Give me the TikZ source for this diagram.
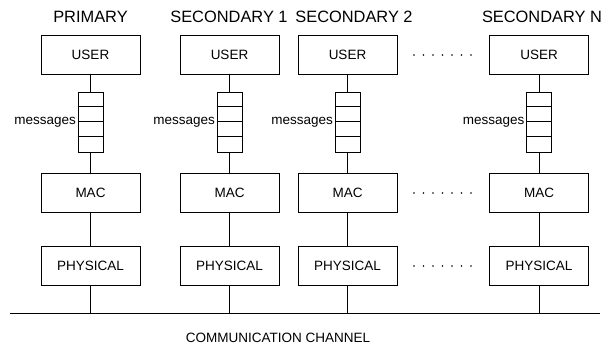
\documentclass[tikz,border=0pt]{standalone}
\usepackage{fontspec}
\setmainfont{Liberation Sans}
\begin{document}
\begin{tikzpicture}[x=1pt,y=-1pt,
  layer/.style={draw,line width=0.8pt,minimum width=99pt,minimum height=39pt,inner sep=0pt,font=\fontsize{13.5}{15}\selectfont},
  queue/.style={draw,line width=0.8pt,minimum width=25pt,minimum height=60pt,inner sep=0pt},
  hdr/.style={font=\fontsize{16.4}{18}\selectfont,inner sep=0pt},
  lbl/.style={font=\fontsize{13.5}{15}\selectfont,inner sep=0pt},
  link/.style={line width=0.8pt}]
\useasboundingbox (0,0) rectangle (609,356);
\foreach \n/\x/\hx/\t in {1/90.5/90.5/PRIMARY,2/229.5/229/SECONDARY 1,3/347.5/354/SECONDARY 2,4/539/542/SECONDARY N}{
  \node[hdr] (h\n) at (\hx,17) {\t};
  \node[layer] (u\n) at (\x,55) {USER};
  \node[queue] (q\n) at (\x,122) {};
  \foreach \k in {15,30,45}{
    \draw[line width=0.8pt] ([yshift=-\k pt]q\n.north west) -- ([yshift=-\k pt]q\n.north east);
  }
  \node[lbl,anchor=east] (m\n) at ([xshift=-1.5pt]q\n.west) {messages};
  \node[layer] (mac\n) at (\x,193) {MAC};
  \node[layer] (p\n) at (\x,266) {PHYSICAL};
  \draw[link] (u\n) -- (q\n);
  \draw[link] (q\n) -- (mac\n);
  \draw[link] (mac\n) -- (p\n);
}
\coordinate (chL) at (10,313);
\coordinate (chR) at (600,313);
\draw[link] (chL) -- (chR);
\foreach \n in {1,2,3,4}{
  \draw[link] (p\n.south) -- (p\n.south |- chL);
}
\node[lbl] (ch) at (278,338) {COMMUNICATION CHANNEL};
\foreach \y in {55,193,266}{
  \foreach \i in {0,...,6}{
    \fill (414+9.5*\i,\y) circle (0.9pt);
  }
}
\end{tikzpicture}
\end{document}
